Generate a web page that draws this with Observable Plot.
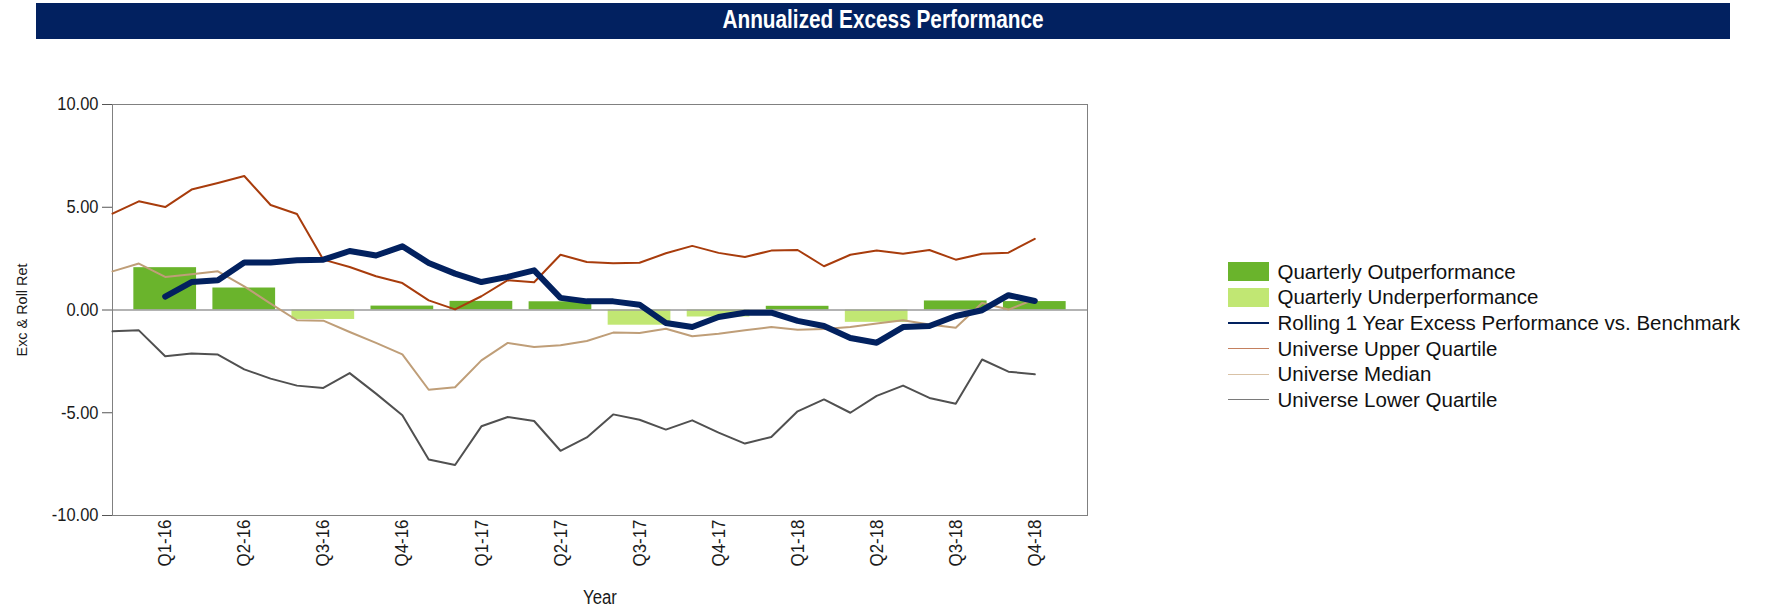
<!DOCTYPE html>
<html><head><meta charset="utf-8">
<script src="https://cdn.jsdelivr.net/npm/d3@7"></script>
<script src="https://cdn.jsdelivr.net/npm/@observablehq/plot@0.6"></script>
<style>
body{margin:0;background:#fff;font-family:"Liberation Sans",Arial,sans-serif;}
#wrap{position:relative;width:1765px;height:610px;overflow:hidden;background:#fff;}
#chart{position:absolute;left:0;top:0;}
#title{position:absolute;left:36px;top:3px;width:1694px;height:36px;background:#022160;color:#fff;font-weight:bold;font-size:25.5px;line-height:33px;text-align:center;z-index:2;}
#title span{display:inline-block;transform:scaleX(0.815);transform-origin:center;}
#legend{position:absolute;left:1228px;top:259px;z-index:2;}
.row{height:25.6px;display:flex;align-items:center;font-size:20.5px;color:#111;white-space:nowrap;}
.sw{width:41px;height:19px;margin-right:8.5px;flex:none;}
.ln{width:41px;margin-right:8.5px;flex:none;}
</style></head>
<body>
<div id="wrap">
  <div id="chart"></div>
  <div id="title"><span>Annualized Excess Performance</span></div>
  <div id="legend"></div>
</div>
<script>
// ---- data ----
const quarters = ["Q1-16","Q2-16","Q3-16","Q4-16","Q1-17","Q2-17","Q3-17","Q4-17","Q1-18","Q2-18","Q3-18","Q4-18"];
const quarterlyExcess = [2.06, 1.07, -0.46, 0.19, 0.42, 0.40, -0.74, -0.34, 0.18, -0.60, 0.44, 0.41];

const months = ["Jan-16","Feb-16","Mar-16","Apr-16","May-16","Jun-16","Jul-16","Aug-16","Sep-16","Oct-16","Nov-16","Dec-16",
                "Jan-17","Feb-17","Mar-17","Apr-17","May-17","Jun-17","Jul-17","Aug-17","Sep-17","Oct-17","Nov-17","Dec-17",
                "Jan-18","Feb-18","Mar-18","Apr-18","May-18","Jun-18","Jul-18","Aug-18","Sep-18","Oct-18","Nov-18","Dec-18"];
const rollingExcess = [null, null, 0.65, 1.36, 1.45, 2.31, 2.31, 2.42, 2.45, 2.87, 2.65, 3.10, 2.29, 1.77, 1.36, 1.61, 1.93, 0.59,
                0.42, 0.42, 0.26, -0.63, -0.83, -0.34, -0.13, -0.13, -0.53, -0.78, -1.36, -1.59, -0.83, -0.78, -0.29, -0.01, 0.72, 0.44];
const upperQuartile = [4.69, 5.29, 5.01, 5.86, 6.18, 6.52, 5.11, 4.67, 2.45, 2.09, 1.64, 1.31, 0.47, 0.03, 0.67, 1.45, 1.35, 2.69,
                2.34, 2.27, 2.30, 2.76, 3.12, 2.78, 2.58, 2.89, 2.92, 2.13, 2.69, 2.90, 2.74, 2.92, 2.45, 2.74, 2.79, 3.46];
const universeMedian = [1.88, 2.26, 1.61, 1.74, 1.88, 1.15, 0.31, -0.50, -0.52, -1.07, -1.60, -2.16, -3.88, -3.76, -2.45, -1.60, -1.80, -1.72,
                -1.51, -1.10, -1.12, -0.91, -1.28, -1.15, -0.99, -0.83, -0.96, -0.92, -0.83, -0.66, -0.50, -0.71, -0.86, 0.34, 0.02, 0.52];
const lowerQuartile = [-1.04, -0.99, -2.25, -2.12, -2.17, -2.89, -3.34, -3.68, -3.79, -3.07, -4.07, -5.12, -7.27, -7.54, -5.66, -5.21, -5.40, -6.85,
                -6.20, -5.08, -5.34, -5.82, -5.37, -5.97, -6.50, -6.18, -4.93, -4.35, -5.00, -4.18, -3.68, -4.28, -4.56, -2.41, -3.00, -3.13];
const yTicks = [-10, -5, 0, 5, 10];

const seriesNames = ["Quarterly Outperformance","Quarterly Underperformance","Rolling 1 Year Excess Performance vs. Benchmark",
                     "Universe Upper Quartile","Universe Median","Universe Lower Quartile"];

// ---- styles ----
const C_OUT = "#6ab42c", C_UNDER = "#c1e773", C_ROLL = "#02215f",
      C_UPPER = "#a83c0c", C_MED = "#bf9e78", C_LOW = "#505050";

// ---- tables ----
const monthRows = months.map((m, i) => ({i, m, roll: rollingExcess[i], upper: upperQuartile[i], med: universeMedian[i], low: lowerQuartile[i]}));
const qIndex = q => months.indexOf("" + ({1:"Mar",2:"Jun",3:"Sep",4:"Dec"})[q[1]] + "-" + q.slice(3));
const quarterRows = quarters.map((q, k) => ({q, i: qIndex(q), v: quarterlyExcess[k]}));
const qLabel = new Map(quarterRows.map(d => [d.i, d.q]));
const half = 1.19;

const chart = Plot.plot({
  width: 1765, height: 610,
  marginLeft: 112, marginRight: 678, marginTop: 104, marginBottom: 95,
  style: {fontFamily: "'Liberation Sans', Arial, sans-serif", fontSize: "16.5px", color: "#1a1a1a", background: "transparent", maxWidth: "none"},
  x: {domain: [0, 37], axis: null},
  y: {domain: [-10, 10], axis: null},
  marks: [
    Plot.rectY(quarterRows, {x1: d => d.i - half, x2: d => d.i + half, y: "v", fill: d => d.v >= 0 ? C_OUT : C_UNDER}),
    Plot.ruleY([0], {stroke: "#9a9a9a", strokeWidth: 1.5}),
    Plot.frame({stroke: "#808080"}),
    Plot.line(monthRows, {x: "i", y: "low", stroke: C_LOW, strokeWidth: 2}),
    Plot.line(monthRows, {x: "i", y: "med", stroke: C_MED, strokeWidth: 2}),
    Plot.line(monthRows, {x: "i", y: "upper", stroke: C_UPPER, strokeWidth: 2}),
    Plot.line(monthRows.filter(d => d.roll != null), {x: "i", y: "roll", stroke: C_ROLL, strokeWidth: 6, strokeLinecap: "round", strokeLinejoin: "round"}),
    Plot.axisY({ticks: yTicks, tickFormat: d => d.toFixed(2), tickSize: 10, tickPadding: 4, fontSize: 18.5, label: null, stroke: "#555"}),
    Plot.axisX({ticks: quarterRows.map(d => d.i), tickFormat: d => qLabel.get(d), tickRotate: -90, tickSize: 0, tickPadding: 4, fontSize: 19, label: null}),
    Plot.text(["Exc & Roll Ret"], {frameAnchor: "left", dx: -90, rotate: -90, fontSize: 15.5, textAnchor: "middle", lineAnchor: "middle"}),
    Plot.text(["Year"], {frameAnchor: "bottom", dy: 82, fontSize: 19.5, textAnchor: "middle", lineAnchor: "middle"})
  ]
});
document.getElementById("chart").appendChild(chart);

// condense axis texts horizontally (the reference uses a narrow face)
chart.querySelectorAll("text").forEach(t => {
  const s = t.textContent;
  let r = null;
  if (/^-?\d+\.00$/.test(s)) r = 0.89;
  else if (/^Q\d-\d\d$/.test(s)) r = 0.89;
  else if (s === "Year") r = 0.86;
  else if (s === "Exc & Roll Ret") r = 0.93;
  if (r) {
    const w = t.getComputedTextLength();
    t.setAttribute("textLength", (w * r).toFixed(2));
    t.setAttribute("lengthAdjust", "spacingAndGlyphs");
  }
});

// ---- legend ----
const legendKinds = [
  {type: "sw", color: C_OUT}, {type: "sw", color: C_UNDER},
  {type: "ln", color: C_ROLL, w: 2.5}, {type: "ln", color: "#c4805f", w: 1.5},
  {type: "ln", color: "#d9c2a6", w: 1.5}, {type: "ln", color: "#7a7a7a", w: 1.5}
];
const legend = document.getElementById("legend");
seriesNames.forEach((name, k) => {
  const row = document.createElement("div"); row.className = "row";
  const sw = document.createElement("div"); sw.className = legendKinds[k].type;
  if (legendKinds[k].type === "sw") sw.style.background = legendKinds[k].color;
  else { sw.style.height = "0"; sw.style.borderTop = legendKinds[k].w + "px solid " + legendKinds[k].color; }
  const t = document.createElement("span"); t.textContent = name;
  row.appendChild(sw); row.appendChild(t); legend.appendChild(row);
});
</script>
</body></html>
